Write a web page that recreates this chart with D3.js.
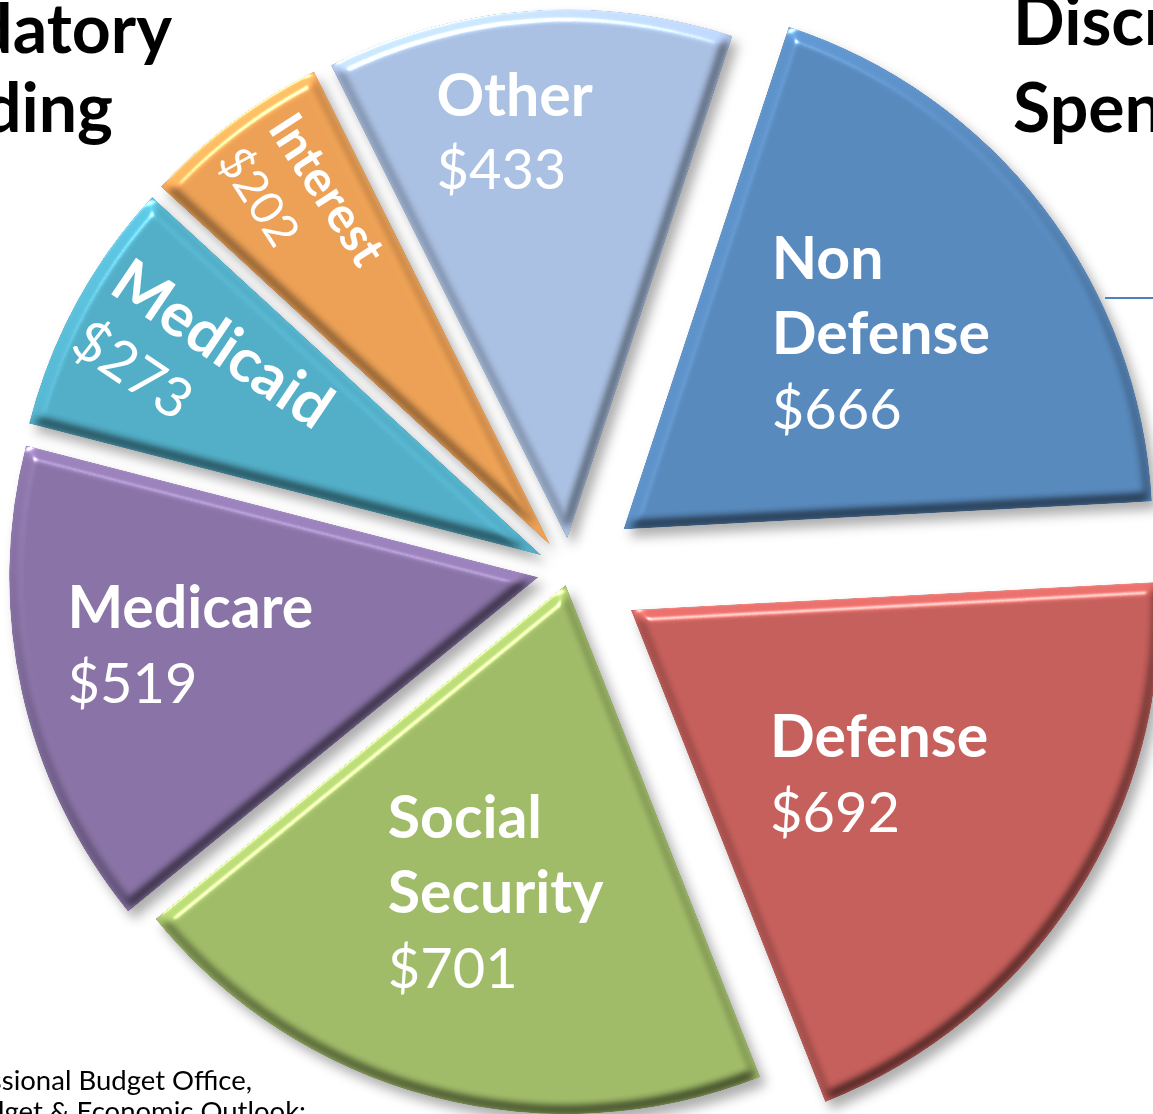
<!DOCTYPE html>
<html>
<head>
<meta charset="utf-8">
<script src="https://cdn.jsdelivr.net/npm/d3@7"></script>
<style>
html, body { margin: 0; padding: 0; background: #fff; }
svg { display: block; font-family: Lato, 'Open Sans', sans-serif; }
</style>
</head>
<body>
<div id="chart"></div>
<script>
// Chart values (billions of dollars)
var categories = ['Non Defense', 'Defense', 'Social Security', 'Medicare', 'Medicaid', 'Interest', 'Other'];
var values = [666, 692, 701, 519, 273, 202, 433];
var sliceColors = ['#5889bd', '#c55f5b', '#a0bb68', '#8973a6', '#52adc6', '#eba055', '#aac0e2'];
var mandatoryTitle = ['Mandatory', 'Spending'];
var discretionaryTitle = ['Discretionary', 'Spending'];
var sourceLines = ['Source: Congressional Budget Office,', 'Budget & Economic Outlook:'];

// Layout
var WIDTH = 1153, HEIGHT = 1114;
var CX = 569.5, CY = 570.5, RADIUS = 529;
var START = 18.2 * Math.PI / 180;
var explode = [68, 73, 15, 32, 32, 32, 32];
var labelDist = [324, 295, 317, 352, 396, 437, 408];
var labelDx = [0, 0, 10, -4, 10, 15, -23];
var labelDy = [0, 4, 0, -8, 6, 10, 0];
var labelRot = [0, 0, 0, 0, 34, 57, 0];
var nameSize = [59, 59, 59, 59, 61, 49, 59];
var valueSize = [56, 56, 56, 56, 56, 46, 56];
var lineGap = [75, 75, 75, 75, 70, 60, 73];

var svg = d3.select('#chart').append('svg')
    .attr('width', WIDTH)
    .attr('height', HEIGHT);

var defs = svg.append('defs');

// soft round bevel, lit from the top
var bevel = defs.append('filter').attr('id', 'bevel')
    .attr('x', '-5%').attr('y', '-5%').attr('width', '110%').attr('height', '110%')
    .attr('color-interpolation-filters', 'sRGB');
bevel.append('feMorphology').attr('in', 'SourceAlpha').attr('operator', 'erode').attr('radius', 4).attr('result', 'er');
bevel.append('feGaussianBlur').attr('in', 'er').attr('stdDeviation', 4).attr('result', 'blur');
var diffuse = bevel.append('feDiffuseLighting').attr('in', 'blur').attr('surfaceScale', 4.5)
    .attr('diffuseConstant', 1).attr('lighting-color', '#fff').attr('result', 'diff');
diffuse.append('feDistantLight').attr('azimuth', 250).attr('elevation', 50);
// keep part of the flat colour so the shaded rims stay tinted
bevel.append('feComposite').attr('in', 'SourceGraphic').attr('in2', 'diff').attr('operator', 'arithmetic')
    .attr('k1', 0.85).attr('k2', 0.35).attr('k3', 0).attr('k4', 0).attr('result', 'lit');
var specular = bevel.append('feSpecularLighting').attr('in', 'blur').attr('surfaceScale', 4.5)
    .attr('specularConstant', 0.6).attr('specularExponent', 80).attr('lighting-color', '#fff').attr('result', 'spec');
specular.append('feDistantLight').attr('azimuth', 250).attr('elevation', 50);
bevel.append('feComposite').attr('in', 'spec').attr('in2', 'SourceAlpha').attr('operator', 'in').attr('result', 'specIn');
bevel.append('feComposite').attr('in', 'lit').attr('in2', 'specIn').attr('operator', 'arithmetic')
    .attr('k1', 0).attr('k2', 1).attr('k3', 1).attr('k4', 0).attr('result', 'sum');
bevel.append('feComposite').attr('in', 'sum').attr('in2', 'SourceAlpha').attr('operator', 'in');

// drop shadow
var shadow = defs.append('filter').attr('id', 'shadow')
    .attr('x', '-10%').attr('y', '-10%').attr('width', '130%').attr('height', '130%');
shadow.append('feGaussianBlur').attr('in', 'SourceAlpha').attr('stdDeviation', 6);
shadow.append('feOffset').attr('dx', 6).attr('dy', 8).attr('result', 'off');
shadow.append('feFlood').attr('flood-color', '#000').attr('flood-opacity', 0.32);
shadow.append('feComposite').attr('in2', 'off').attr('operator', 'in');

var pie = d3.pie().sort(null).value(function (d) { return d; })
    .startAngle(START).endAngle(START + 2 * Math.PI);
var arc = d3.arc().innerRadius(0).outerRadius(RADIUS);
var slices = pie(values);

function offset(d, i, dist) {
    var mid = (d.startAngle + d.endAngle) / 2;
    return [CX + Math.sin(mid) * (explode[i] + dist), CY - Math.cos(mid) * (explode[i] + dist)];
}

// shadows first, then the bevelled slices
svg.append('g').attr('class', 'shadows').attr('filter', 'url(#shadow)')
    .selectAll('path').data(slices).enter().append('path')
    .attr('d', arc)
    .attr('fill', '#000')
    .attr('transform', function (d, i) { return 'translate(' + offset(d, i, 0) + ')'; });

svg.append('g').attr('class', 'slices')
    .selectAll('path').data(slices).enter().append('path')
    .attr('d', arc)
    .attr('fill', function (d, i) { return sliceColors[i]; })
    .attr('filter', 'url(#bevel)')
    .attr('transform', function (d, i) { return 'translate(' + offset(d, i, 0) + ')'; });

// Labels: bold name lines, regular value line, left aligned block
var labels = svg.append('g').attr('class', 'labels');
slices.forEach(function (d, i) {
    var pos = offset(d, i, labelDist[i]);
    pos = [pos[0] + labelDx[i], pos[1] + labelDy[i]];
    var g = labels.append('g')
        .attr('transform', 'translate(' + pos + ') rotate(' + labelRot[i] + ')');
    var lines = categories[i].split(' ').concat(['$' + values[i]]);
    var capH = nameSize[i] * 0.72;
    var blockH = capH + (lines.length - 1) * lineGap[i];
    var texts = lines.map(function (t, j) {
        var isName = j < lines.length - 1;
        return g.append('text')
            .attr('y', -blockH / 2 + capH + j * lineGap[i])
            .attr('fill', '#fff')
            .attr('font-size', isName ? nameSize[i] : valueSize[i])
            .attr('font-weight', isName ? 700 : 400)
            .text(t);
    });
    var maxW = d3.max(texts, function (t) { return t.node().getComputedTextLength(); });
    texts.forEach(function (t) { t.attr('x', -maxW / 2); });
});

// Titles (cropped at the page edges)
var titles = svg.append('g').attr('font-weight', 700).attr('font-size', 68).attr('fill', '#000');
titles.append('text').attr('x', 172).attr('y', 53).attr('text-anchor', 'end').text(mandatoryTitle[0]);
titles.append('text').attr('x', 113).attr('y', 132).attr('text-anchor', 'end').text(mandatoryTitle[1]);
titles.append('text').attr('x', 1013).attr('y', 45).text(discretionaryTitle[0]);
titles.append('text').attr('x', 1013).attr('y', 132).text(discretionaryTitle[1]);

svg.append('line')
    .attr('x1', 1105).attr('x2', WIDTH).attr('y1', 298).attr('y2', 298)
    .attr('stroke', '#4f81bd').attr('stroke-width', 2);

var source = svg.append('g').attr('font-size', 27.5).attr('fill', '#000').attr('text-anchor', 'end');
source.append('text').attr('x', 252).attr('y', 1090).text(sourceLines[0]);
source.append('text').attr('x', 306).attr('y', 1121).text(sourceLines[1]);
</script>
</body>
</html>
